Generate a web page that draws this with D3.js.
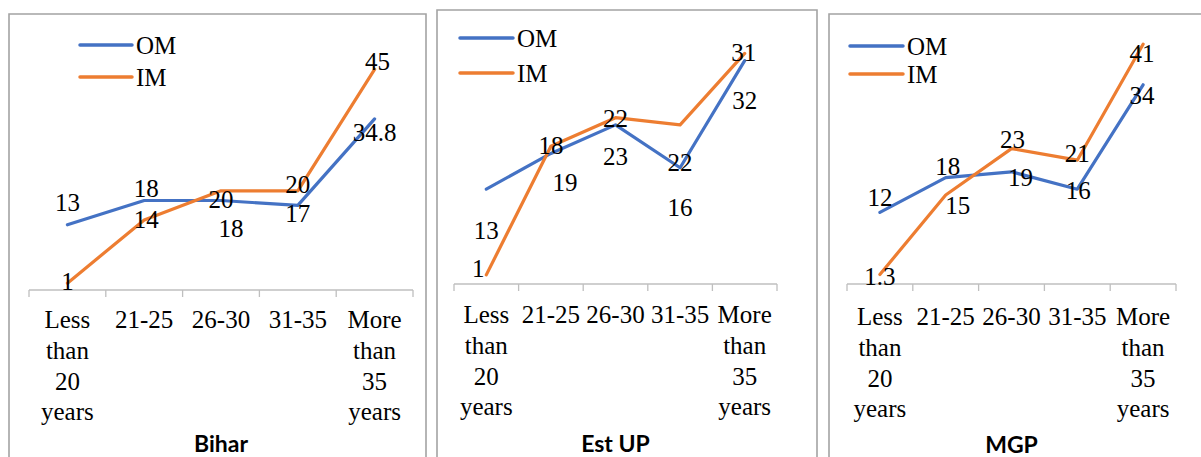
<!DOCTYPE html>
<html>
<head>
<meta charset="utf-8">
<script src="https://cdn.jsdelivr.net/npm/d3@7"></script>
</head>
<body style="margin:0">
<svg id="chart" width="1201" height="457" style="font-family: 'Liberation Serif', 'Times New Roman', serif; background:#fff"></svg>
<script>
// Age groups on the x axis (each label is wrapped onto several lines)
const categories = ["Less than 20 years", "21-25", "26-30", "31-35", "More than 35 years"];
const categoryLines = [["Less", "than", "20", "years"], ["21-25"], ["26-30"], ["31-35"], ["More", "than", "35", "years"]];
const seriesNames = ["OM", "IM"];
const panelTitles = ["Bihar", "Est UP", "MGP"];

// Values per region and series
const biharOM = [13, 18, 18, 17, 34.8];
const biharIM = [1, 14, 20, 20, 45];
const estUpOM = [13, 18, 22, 16, 31];
const estUpIM = [1, 19, 23, 22, 32];
const mgpOM = [12, 18, 19, 16, 34];
const mgpIM = [1.3, 15, 23, 21, 41];

const colors = { OM: "#4472C4", IM: "#ED7D31" };
const SERIF = '"Liberation Serif"';

// Panel layout: frame, plot extent, value axis range and legend spot
const panels = [
  {
    title: panelTitles[0], om: biharOM, im: biharIM,
    frame: { x: 9, y: 14, right: 426 },
    xRange: [29, 413], baseline: 290, yMax: 50, yTop: 45,
    catBaseline: 328, titleBaseline: 452,
    legend: { x0: 80, x1: 132, y: [45, 77] },
    // label offsets (dx, dy) from each point
    offsets: {
      OM: [[0, -23], [2, -12], [10, 28], [0, 8], [0, 13]],
      IM: [[0, -2], [2, -1], [0, 8], [0, -7], [3, -8]]
    }
  },
  {
    title: panelTitles[1], om: estUpOM, im: estUpIM,
    frame: { x: 437, y: 10, right: 817 },
    xRange: [454, 777], baseline: 284, yMax: 35, yTop: 32,
    catBaseline: 323, titleBaseline: 452,
    legend: { x0: 460, x1: 513, y: [38, 73] },
    offsets: {
      OM: [[0, 41], [0, -8], [0, -7], [0, 40], [-1, -8]],
      IM: [[-8, -7], [14, 36], [0, 39], [0, 37], [0, 47]]
    }
  },
  {
    title: panelTitles[2], om: mgpOM, im: mgpIM,
    frame: { x: 829, y: 14, right: 1230 },
    xRange: [847, 1176], baseline: 284, yMax: 40, yTop: 50,
    catBaseline: 325, titleBaseline: 453,
    legend: { x0: 850, x1: 903, y: [46, 74] },
    offsets: {
      OM: [[0, -15], [2, -11], [9, 5], [1, 1], [-1, 10]],
      IM: [[0, 2], [12, 10], [1, -9], [0, -7], [-1, 9]]
    }
  }
];

const svg = d3.select("#chart");
const fontSize = 25;

panels.forEach(p => {
  const g = svg.append("g");

  // Chart frame
  g.append("path")
    .attr("d", `M${p.frame.x},470 V${p.frame.y} H${p.frame.right} V470`)
    .attr("fill", "none")
    .attr("stroke", "#a3a3a3")
    .attr("stroke-width", 1.6);

  const x = d3.scaleBand().domain(categories).range(p.xRange).padding(0);
  const y = d3.scaleLinear().domain([0, p.yMax]).range([p.baseline - 2, p.yTop]);
  const cx = c => x(c) + x.bandwidth() / 2;

  // Category axis line with tick marks between the groups
  const axisG = g.append("g").attr("transform", `translate(0,${p.baseline})`);
  axisG.append("line")
    .attr("x1", p.xRange[0]).attr("x2", p.xRange[1])
    .attr("stroke", "#bfbfbf").attr("stroke-width", 1.3);
  const bounds = categories.map(c => x(c)).concat([p.xRange[1]]);
  axisG.selectAll("line.sep")
    .data(bounds)
    .join("line")
    .attr("class", "sep")
    .attr("x1", d => d).attr("x2", d => d)
    .attr("y1", 0).attr("y2", 7)
    .attr("stroke", "#bfbfbf").attr("stroke-width", 1.3);

  // Category labels
  categories.forEach((c, i) => {
    const t = g.append("text")
      .style("font-family", SERIF)
      .style("font-size", fontSize + "px")
      .attr("x", cx(c))
      .attr("y", p.catBaseline)
      .attr("text-anchor", "middle")
      .attr("fill", "#000");
    categoryLines[i].forEach((ln, j) => {
      t.append("tspan")
        .attr("x", cx(c))
        .attr("dy", j === 0 ? 0 : 30.8)
        .text(ln);
    });
  });

  // Lines
  const line = d3.line().x((d, i) => cx(categories[i])).y(d => y(d));
  const seriesData = [{ name: "OM", values: p.om }, { name: "IM", values: p.im }];
  seriesData.forEach(s => {
    g.append("path")
      .datum(s.values)
      .attr("d", line)
      .attr("fill", "none")
      .attr("stroke", colors[s.name])
      .attr("stroke-width", 3.2)
      .attr("stroke-linejoin", "round")
      .attr("stroke-linecap", "round");
  });

  // Data labels
  seriesData.forEach(s => {
    g.selectAll(null)
      .data(s.values)
      .join("text")
      .style("font-family", SERIF)
      .style("font-size", fontSize + "px")
      .attr("x", (d, i) => cx(categories[i]) + p.offsets[s.name][i][0])
      .attr("y", (d, i) => y(d) + p.offsets[s.name][i][1])
      .attr("dy", "0.35em")
      .attr("text-anchor", "middle")
      .attr("fill", "#000")
      .text(d => d);
  });

  // Legend
  seriesNames.forEach((name, i) => {
    g.append("line")
      .attr("x1", p.legend.x0).attr("x2", p.legend.x1)
      .attr("y1", p.legend.y[i]).attr("y2", p.legend.y[i])
      .attr("stroke", colors[name])
      .attr("stroke-width", 3.5)
      .attr("stroke-linecap", "round");
    g.append("text")
      .style("font-family", SERIF)
      .style("font-size", fontSize + "px")
      .attr("x", p.legend.x1 + 4)
      .attr("y", p.legend.y[i])
      .attr("dy", "0.35em")
      .attr("fill", "#000")
      .text(name);
  });

  // Panel title
  g.append("text")
    .style("font-family", '"Lato"')
    .style("font-weight", "bold")
    .style("font-size", "23px")
    .attr("x", (p.xRange[0] + p.xRange[1]) / 2)
    .attr("y", p.titleBaseline)
    .attr("text-anchor", "middle")
    .attr("fill", "#000")
    .text(p.title);
});
</script>
</body>
</html>
